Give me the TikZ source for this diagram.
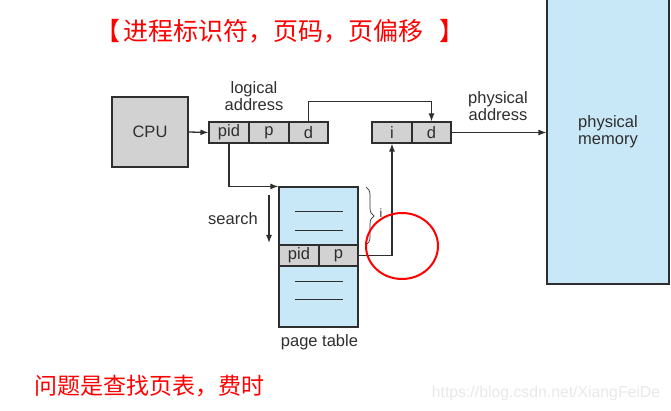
\documentclass[tikz,border=0pt]{standalone}
\usepackage{fontspec}
\setmainfont{Liberation Sans}
\newfontfamily\cjk{Noto Sans CJK SC}
\usepackage{tikz}
\usetikzlibrary{arrows.meta,decorations.pathreplacing}
\usepackage{xcolor}

\definecolor{cellgray}{HTML}{D2D2D2}
\definecolor{tableblue}{HTML}{C8E8F8}
\definecolor{inkgray}{HTML}{2E2E2E}

\tikzset{
	label text/.style={text=inkgray, font=\fontsize{16.5}{17}\selectfont, align=center},
	cell/.style={shape=rectangle, draw=inkgray, fill=cellgray, line width=1.1pt, inner sep=0pt, minimum height=21pt, label text},
	link/.style={draw=inkgray, line width=1.3pt, -{Latex[length=8pt,width=6pt]}},
	rule/.style={draw=inkgray, line width=1pt}
}

\begin{document}
\begin{tikzpicture}[x=1pt, y=-1pt]

	\useasboundingbox (0, 0) rectangle (671, 411);

	\node[cell, minimum width=76pt, minimum height=70pt] (Cpu) at (150, 132) {CPU};

	\node[cell, minimum width=40pt] (Pid) at (229, 132.5) {pid};
	\node[cell, minimum width=40pt] (Page) at (269, 132.5) {p};
	\node[cell, minimum width=39pt] (Offset) at (308.5, 132.5) {d};
	\node[label text] (LogicalLabel) at (254, 96.5) {logical\\address};

	\node[cell, minimum width=40pt] (Frame) at (392, 132.5) {i};
	\node[cell, minimum width=39pt] (FrameOffset) at (431.5, 132.5) {d};
	\node[label text] (PhysicalLabel) at (498, 106.5) {physical\\address};

	\node[shape=rectangle, draw=inkgray, fill=tableblue, line width=1.1pt, minimum width=122pt, minimum height=294pt] (Memory) at (608, 137) {};
	\node[label text] (MemoryLabel) at (608, 131.5) {physical\\memory};

	\node[shape=rectangle, draw=inkgray, fill=tableblue, line width=1.1pt, minimum width=79pt, minimum height=140pt] (Table) at (318.5, 257) {};
	\node[cell, minimum width=40pt] (TablePid) at (299, 255.5) {pid};
	\node[cell, minimum width=39pt] (TablePage) at (338.5, 255.5) {p};
	\node[label text] (TableLabel) at (319.5, 342) {page table};

	\draw[rule] (295, 212) -- (343, 212);
	\draw[rule] (295, 231) -- (343, 231);
	\draw[rule] (295, 282) -- (343, 282);
	\draw[rule] (295, 299) -- (343, 299);

	\draw[link] (Cpu.east) -- (Pid.west);
	\draw[link] (Offset.north) -- ++(0, -20) -| (FrameOffset.north);
	\draw[link] (FrameOffset.east) -- (Memory.west |- FrameOffset.east);
	\draw[link] (Pid.south) |- (Table.north west);
	\draw[link] (TablePage.east) -| (Frame.south);

	\coordinate (SearchTop) at (269, 195);
	\coordinate (SearchEnd) at (269, 243);
	\draw[link] (SearchTop) -- (SearchEnd);
	\node[label text] (SearchLabel) at (233, 219) {search};

	\draw[draw=inkgray, line width=0.7pt, decorate, decoration={brace, amplitude=8pt}] (366, 187) -- (366, 245);
	\node[text=inkgray, font=\fontsize{12}{12}\selectfont] (BraceLabel) at (381, 213) {i};

	\draw[red, line width=2pt] (402, 246) ellipse [x radius=36pt, y radius=33pt];

	\node[text=red, font=\cjk\fontsize{25}{27}\selectfont, anchor=west, inner sep=0pt] (Title) at (95, 31) {【\hspace{3pt}进程标识符，页码，页偏移\hspace{16pt}】};
	\node[text=red, font=\cjk\fontsize{23}{25}\selectfont] (Problem) at (149, 386) {问题是查找页表，费时};
	\node[text=black!9, font=\fontsize{15.8}{16}\selectfont] (Watermark) at (546, 393) {https://blog.csdn.net/XiangFeiDe};

\end{tikzpicture}
\end{document}
